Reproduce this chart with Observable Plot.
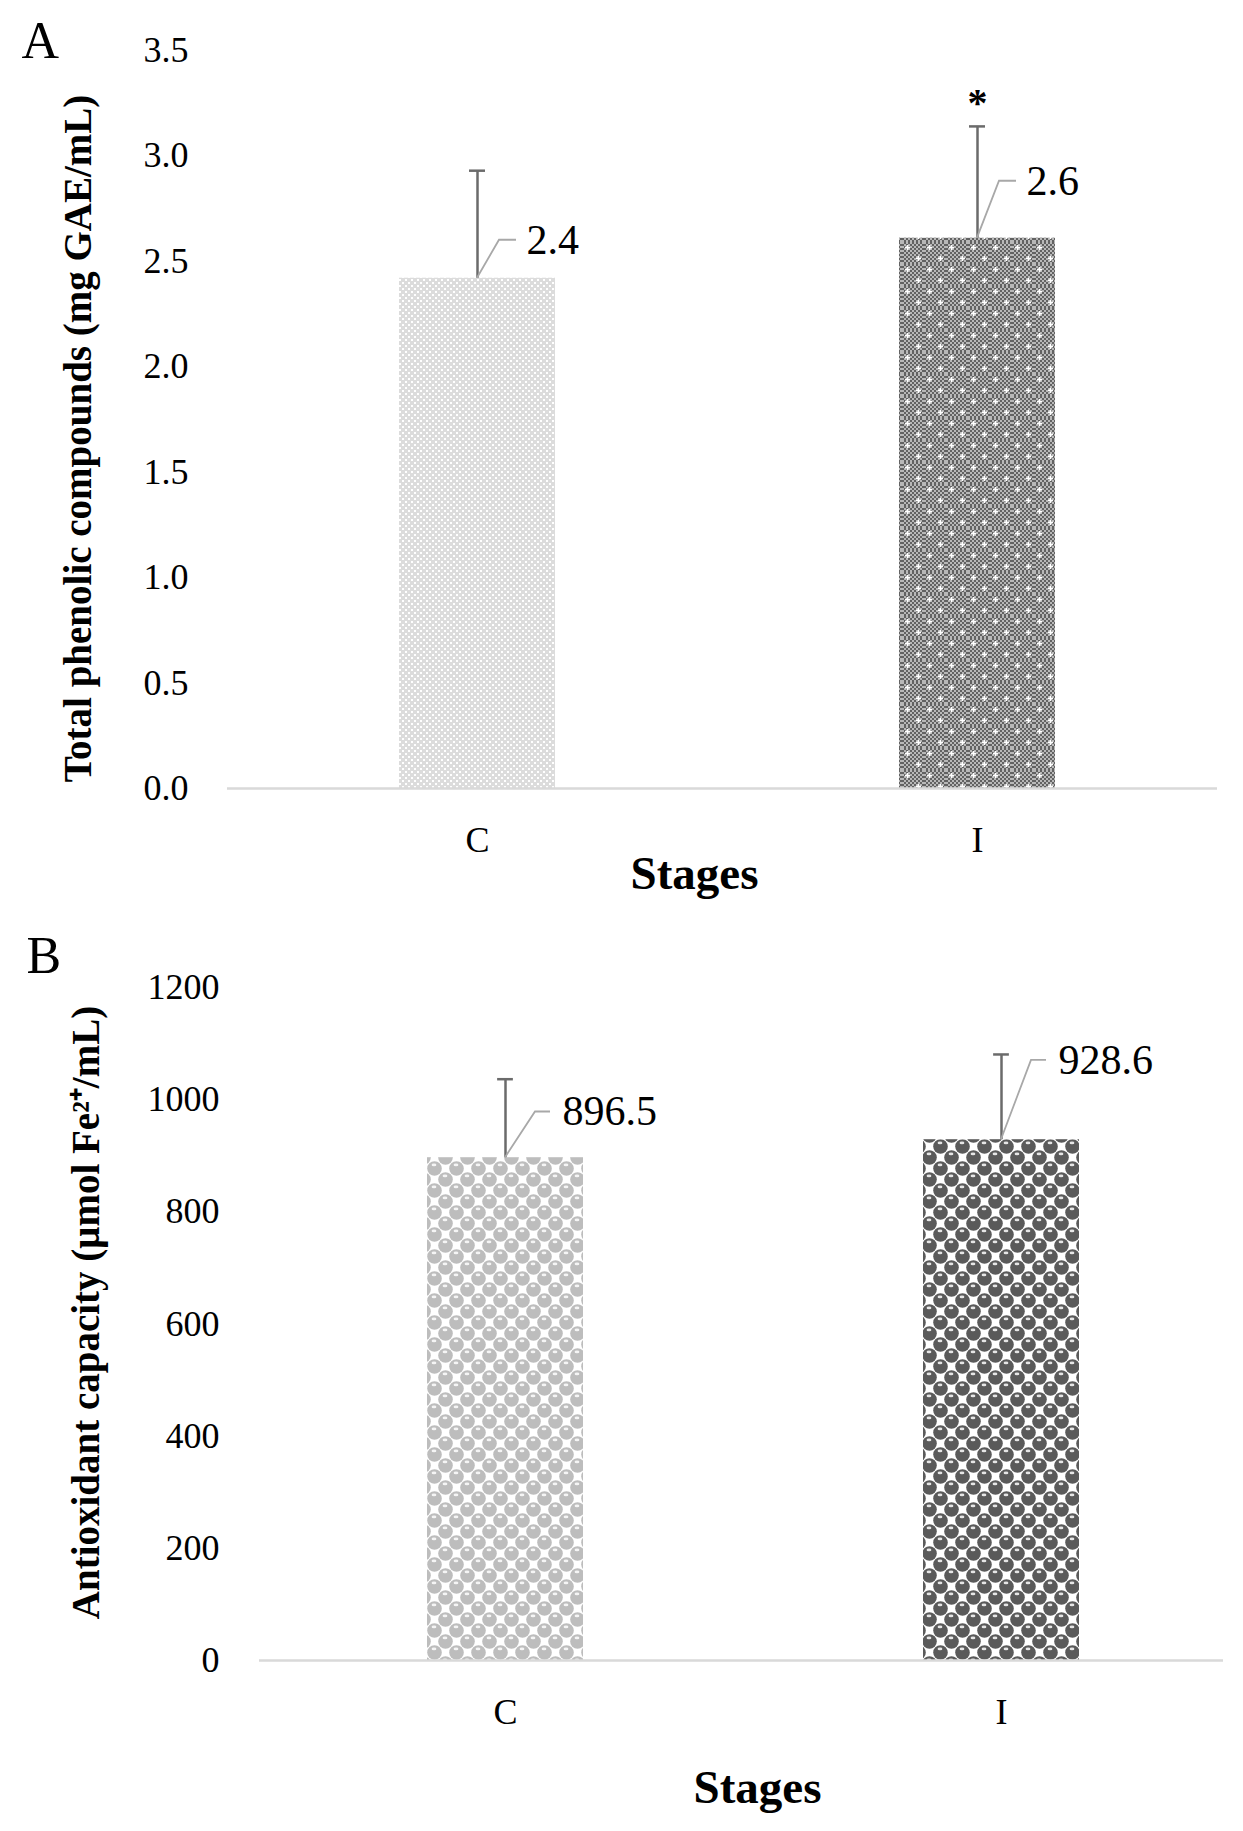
<!DOCTYPE html>
<html><head><meta charset="utf-8">
<script src="https://cdn.jsdelivr.net/npm/d3@7"></script>
<script src="https://cdn.jsdelivr.net/npm/@observablehq/plot@0.6"></script>
<style>
html,body{margin:0;padding:0;background:#fff;overflow:hidden;}
#chart svg{display:block;}
</style></head><body><div id="chart"></div>
<script>
// ---- data ----
const stages = ["C", "I"];

const phenolicMean = [2.42, 2.61];
const phenolicSD = [0.51, 0.53];
const phenolicText = ["2.4", "2.6"];
const phenolicTextY = [2.60, 2.88];
const phenolicSig = ["", "*"];
const phenolicSigY = [null, 3.19];
const phenolicTicks = [0, 0.5, 1, 1.5, 2, 2.5, 3, 3.5];
const phenolicLabel = "Total phenolic compounds (mg GAE/mL)";

const antioxMean = [896.5, 928.6];
const antioxSD = [140, 152];
const antioxText = ["896.5", "928.6"];
const antioxTextY = [978, 1070];
const antioxTicks = [0, 200, 400, 600, 800, 1000, 1200];
const antioxLabel = "Antioxidant capacity (\u03bcmol Fe\u00b2\u207a/mL)";

const xLabel = "Stages";

// ---- patterns ----
function spheres(id, color) {
  let s = `<pattern id="${id}" width="22" height="22" patternUnits="userSpaceOnUse"><rect width="22" height="22" fill="#fff"/>`;
  const pts = [[5.5,5.5],[16.5,16.5],[27.5,5.5],[-5.5,16.5],[5.5,27.5],[16.5,-5.5],[-5.5,-5.5],[27.5,27.5]];
  for (const [cx, cy] of pts) {
    s += `<circle cx="${cx}" cy="${cy}" r="7.3" fill="${color}"/>`;
    s += `<ellipse cx="${cx - 0.5}" cy="${cy - 3.6}" rx="2.4" ry="1.3" fill="#fff" opacity="0.85"/>`;
  }
  return s + `</pattern>`;
}
function defsA() {
  return `
  <pattern id="pA0" width="6" height="6" patternUnits="userSpaceOnUse">
    <rect width="6" height="6" fill="#dcdcdc"/>
    <rect width="2" height="2" fill="#fff"/><rect x="3" y="3" width="2" height="2" fill="#fff"/>
  </pattern>
  <pattern id="pAchk" width="4" height="4" patternUnits="userSpaceOnUse">
    <rect width="4" height="4" fill="#626262"/>
    <rect width="2" height="2" fill="#b8b8b8"/><rect x="2" y="2" width="2" height="2" fill="#b8b8b8"/>
  </pattern>
  <pattern id="pA1" width="22" height="22" patternUnits="userSpaceOnUse">
    <rect width="22" height="22" fill="url(#pAchk)"/>
    <rect x="3" y="4.7" width="5" height="1.6" fill="#fff"/><rect x="4.7" y="3" width="1.6" height="5" fill="#fff"/>
    <rect x="14" y="15.7" width="5" height="1.6" fill="#fff"/><rect x="15.7" y="14" width="1.6" height="5" fill="#fff"/>
  </pattern>`;
}
function defsB() {
  return spheres("pB0", "#bdbdbd") + spheres("pB1", "#5a5a5a");
}

// ---- panel builder ----
function panel(cfg) {
  const rows = stages.map((s, i) => ({
    stage: s,
    mean: cfg.mean[i],
    top: cfg.mean[i] + cfg.sd[i],
    text: cfg.text[i],
    textY: cfg.textY[i],
    fill: `url(#${cfg.patterns[i]})`,
    sig: cfg.sig ? cfg.sig[i] : "",
    sigY: cfg.sigY ? cfg.sigY[i] : null
  }));
  const bw = (cfg.xRange[1] - cfg.xRange[0]) / stages.length * (1 - cfg.padding);
  const capInset = (bw - 16) / 2;

  const leaders = (index, scales) => {
    const x = scales.x, y = scales.y;
    const b = typeof x.bandwidth === "function" ? x.bandwidth() : (x.bandwidth || 0);
    const g = d3.create("svg:g").attr("fill", "none").attr("stroke", "#a8a8a8").attr("stroke-width", 1.8);
    for (const d of rows) {
      const cx = x(d.stage) + b / 2;
      g.append("path").attr("d", `M${cx},${y(d.mean)}L${cx + cfg.kneeDx},${y(d.textY)}H${cx + cfg.endDx}`);
    }
    return g.node();
  };

  const svg = Plot.plot({
    width: 1243,
    height: cfg.height,
    marginTop: cfg.mt, marginBottom: cfg.mb, marginLeft: cfg.ml, marginRight: cfg.mr,
    style: {fontFamily: "'Liberation Serif', 'Times New Roman', serif", color: "#000", background: "#fff", overflow: "visible"},
    x: {domain: stages, range: cfg.xRange, paddingInner: cfg.padding, paddingOuter: cfg.padding / 2},
    y: {domain: cfg.yDomain},
    color: {type: "identity"},
    marks: [
      Plot.axisY({ticks: cfg.ticks, tickSize: 0, tickPadding: cfg.tickPad, tickFormat: cfg.fmt, fontSize: 36, label: null}),
      Plot.axisX({tickSize: 0, tickPadding: 38, fontSize: 36, label: null}),
      Plot.barY(rows, {x: "stage", y: "mean", fill: "fill"}),
      Plot.ruleY([0], {stroke: "#d9d9d9", strokeWidth: 2.5}),
      Plot.ruleX(rows, {x: "stage", y1: "mean", y2: "top", stroke: "#6b6b6b", strokeWidth: 2.5}),
      Plot.tickY(rows, {x: "stage", y: "top", stroke: "#6b6b6b", strokeWidth: 2.5, insetLeft: capInset, insetRight: capInset}),
      leaders,
      Plot.text(rows, {x: "stage", y: "textY", text: "text", dx: cfg.textDx, textAnchor: "start", fontSize: 42}),
      Plot.text(rows.filter(d => d.sig), {x: "stage", y: "sigY", text: "sig", lineAnchor: "bottom", fontSize: 40, fontWeight: "bold"}),
      Plot.text([cfg.ylabel], {text: d => d, frameAnchor: "left", textAnchor: "middle", lineAnchor: "middle", rotate: -90, dx: cfg.yLabDx, dy: cfg.yLabDy, fontSize: 39, fontWeight: "bold"}),
      Plot.text([xLabel], {text: d => d, frameAnchor: "bottom", textAnchor: "middle", lineAnchor: "bottom", dx: cfg.xLabDx, dy: cfg.xLabDy, fontSize: 47, fontWeight: "bold"}),
      Plot.text([cfg.letter], {text: d => d, frameAnchor: "top-left", textAnchor: "start", lineAnchor: "bottom", dx: cfg.letDx, dy: cfg.letDy, fontSize: 52})
    ]
  });
  d3.select(svg).insert("defs", ":first-child").html(cfg.defs);
  return svg;
}

const chart = document.getElementById("chart");
chart.appendChild(panel({
  height: 910, mt: 50, mb: 122, ml: 227, mr: 26,
  xRange: [227, 1227], padding: 0.688,
  yDomain: [0, 3.5], ticks: phenolicTicks, fmt: d3.format(".1f"), tickPad: 39,
  mean: phenolicMean, sd: phenolicSD, text: phenolicText, textY: phenolicTextY,
  sig: phenolicSig, sigY: phenolicSigY,
  patterns: ["pA0", "pA1"], defs: defsA(),
  kneeDx: 22, endDx: 39, textDx: 49,
  ylabel: phenolicLabel, yLabDx: -149, yLabDy: 19,
  xLabDx: -28, xLabDy: 100,
  letter: "A", letDx: -206, letDy: 7
}));
chart.appendChild(panel({
  height: 921, mt: 77, mb: 171, ml: 259, mr: 20,
  xRange: [257, 1249], padding: 0.685,
  yDomain: [0, 1200], ticks: antioxTicks, fmt: d3.format("d"), tickPad: 40,
  mean: antioxMean, sd: antioxSD, text: antioxText, textY: antioxTextY,
  patterns: ["pB0", "pB1"], defs: defsB(),
  kneeDx: 30, endDx: 45, textDx: 57,
  ylabel: antioxLabel, yLabDx: -173, yLabDy: -11.5,
  xLabDx: 16, xLabDy: 142,
  letter: "B", letDx: -233, letDy: -15
}));
</script></body></html>
